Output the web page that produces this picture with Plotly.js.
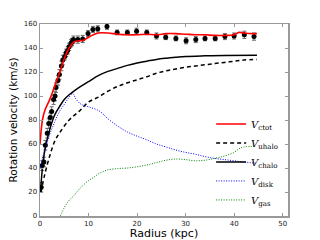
<!DOCTYPE html>
<html><head><meta charset="utf-8">
<script src="https://cdn.plot.ly/plotly-3.0.1.min.js"></script>
<style>html,body{margin:0;padding:0;background:#fff}#c{width:320px;height:240px}</style>
</head><body><div id="c"></div>
<script>
// observed rotation curve
const obsR = [0.25,0.45,0.8,1.1,1.5,1.8,2.1,2.4,2.8,3.1,3.3,3.7,4.0,4.4,4.7,5.1,5.4,5.7,6.0,6.4,6.6,6.9,7.8,8.8,9.9,10.9,11.9,13.8,15.9,18.0,19.9,22.0,24.0,25.9,28.0,30.1,32.1,34.0,36.1,38.1,40.0,42.1,44.1];
const obsV = [24,42,45,59,69,77,82,87,97,100,107,113,118,125,130,133,136,138,141,144,145,147,147,147.5,152,155.5,156,158,153,153,154,153,150,149,148,146,147,148,148,149.5,150,151,149.5];
const obsErr = [4,4,4,4,4,4,4,4,4,4,4,4,4,4,4,3,3,3,3,3,3,3,3,3,2.5,2.5,2.5,2.5,2,2,2.5,2,2.5,2,2,2.5,2.5,2,2,2.5,2.5,3,3];

const ctotR = [0,0.5,1,2,3,4,5,6,7,8,9,10,11,12,14,16,18,20,22,24,26,28,30,32,34,36,38,40,41,42,44,44.7];
const ctotV = [60,80,88,97,108,119,131,140,145,146,146.5,149,151,152.5,152.5,151.5,151,151,151.5,151,152,152,151.5,151,151,150.5,150.5,151,153,152.5,152,152];

const uhaloR = [0.2,1,2,3,4,6,8,10,12,14,16,18,20,22,24,26,28,30,32,34,36,38,40,42,44.7];
const uhaloV = [20,35,50,62,69,80,87,95,99,104,108,111,113.5,116,119,121,122.5,124,125,126,127,128,129,130,130.5];

const chaloR = [0.1,0.5,1,2,3,4,5,6,8,10,12,14,16,18,20,22,24,26,28,30,34,38,44.7];
const chaloV = [20,40,55,72,84,91,97,101,107,112,117,120.5,123,125.5,127.5,129,130.5,131.5,132.3,133,133.5,133.8,134];

const diskR = [0.1,0.5,1,2,3,4,5,6,6.7,7.5,8.5,10,12,13,14,16,18,20,22,24,26,28,30,32,34,36,38,40,42,44.5];
const diskV = [40,48,55,68,78,87,93,99,102,97,93,91,88,85,81,75,70,66.5,63.5,60,57.5,55,53,51.5,49.5,48,47,46,45,44];

const gasR = [4.2,5,6,7,8,9,10,11,12,13,14,16,18,20,22,24,26,28,30,32,34,36,38,40,41,42,44.5];
const gasV = [0,7,13,17,22,26,29.5,32,35,37,38.5,39.5,40,41,42.5,44.5,46.5,47.5,47,46,46.5,48,50,53,56,57.5,58];

const names = ['<i>V</i><sub>ctot</sub>','<i>V</i><sub>uhalo</sub>','<i>V</i><sub>chalo</sub>','<i>V</i><sub>disk</sub>','<i>V</i><sub>gas</sub>'];
const xTicks = [0,10,20,30,40,50];
const yTicks = [0,20,40,60,80,100,120,140,160];

const traces = [
  {x: obsR, y: obsV, mode:'markers', type:'scatter', showlegend:false,
   marker:{color:'#000', size:5},
   error_y:{type:'data', array: obsErr, color:'#666', thickness:1, width:2}},
  {x: ctotR, y: ctotV, mode:'lines', name: names[0], line:{color:'#ff0000', width:1.6, shape:'spline'}},
  {x: uhaloR, y: uhaloV, mode:'lines', name: names[1], line:{color:'#000', width:1.5, dash:'4px,3px', shape:'spline'}},
  {x: chaloR, y: chaloV, mode:'lines', name: names[2], line:{color:'#000', width:1.5, shape:'spline'}},
  {x: diskR, y: diskV, mode:'lines', name: names[3], line:{color:'#0000ff', width:1, dash:'1px,1.5px', shape:'spline'}},
  {x: gasR, y: gasV, mode:'lines', name: names[4], line:{color:'#008000', width:1, dash:'1px,1.5px', shape:'spline'}}
];

const axisCommon = {showgrid:false, zeroline:false, showline:true, linecolor:'#999', linewidth:1.5, mirror:'ticks',
  ticks:'inside', ticklen:3, tickcolor:'#999', tickfont:{family:'DejaVu Sans', size:7, color:'#222'}};

const layout = {
  width:320, height:240, margin:{l:40, r:32, t:24, b:24},
  paper_bgcolor:'#fff', plot_bgcolor:'#fff',
  xaxis: Object.assign({}, axisCommon, {range:[0,51.1], tickvals:xTicks, ticktext:xTicks.map(String),
    title:{text:'Radius (kpc)', font:{family:'DejaVu Sans', size:11, color:'#000'}, standoff:2}}),
  yaxis: Object.assign({}, axisCommon, {range:[0,160], tickvals:yTicks, ticktext:yTicks.map(String),
    title:{text:'Rotation velocity (km/s)', font:{family:'DejaVu Sans', size:10.5, color:'#000'}, standoff:4}}),
  showlegend:true,
  legend:{x:0.69, y:0.555, xanchor:'left', yanchor:'top', bgcolor:'rgba(0,0,0,0)', borderwidth:0,
    font:{family:'DejaVu Serif', size:10, color:'#000'}, itemwidth:30, tracegroupgap:0}
};

Plotly.newPlot('c', traces, layout, {displayModeBar:false, staticPlot:true});
</script></body></html>
